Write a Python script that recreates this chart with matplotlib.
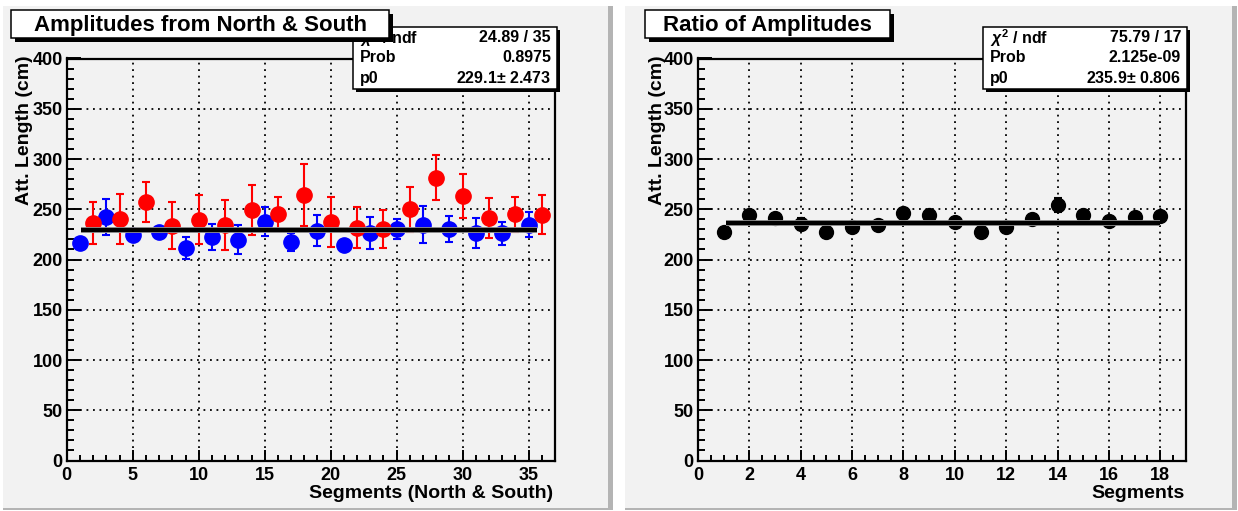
import matplotlib as mpl
import matplotlib.pyplot as plt
from matplotlib.patches import Rectangle
from matplotlib.ticker import MultipleLocator

mpl.use('Agg')
plt.rcParams['font.family'] = ['Liberation Sans', 'DejaVu Sans']
plt.rcParams['font.weight'] = 'bold'
plt.rcParams['mathtext.fontset'] = 'custom'
plt.rcParams['mathtext.it'] = 'Liberation Sans:italic:bold'
plt.rcParams['mathtext.rm'] = 'Liberation Sans:bold'

# left panel: north (odd segments, blue) and south (even segments, red)
north_seg = [1, 3, 5, 7, 9, 11, 13, 15, 17, 19, 21, 23, 25, 27, 29, 31, 33, 35]
north_len = [216.5, 242.2, 224.5, 227.2, 211.5, 222.2, 219.5, 237.8, 217.2,
             228.8, 214.8, 226.2, 230.5, 234.8, 230.5, 226.5, 226.2, 234.5]
north_err = [4, 18, 4, 4, 11, 13, 14.5, 14.5, 9,
             15, 5, 16, 10, 18.5, 12.6, 14.6, 11.5, 12.3]
south_seg = [2, 4, 6, 8, 10, 12, 14, 16, 18, 20, 22, 24, 26, 28, 30, 32, 34, 36]
south_len = [236.5, 240.5, 257.2, 233.8, 239.8, 234.5, 249.5, 245.5, 264.5,
             237.2, 231.5, 230.5, 249.8, 281.5, 262.8, 241.5, 244.8, 244.5]
south_err = [21, 25, 20, 23, 24, 25, 25, 17, 31,
             25, 20.5, 19, 22, 22.5, 22, 20, 17, 19.5]
fit_ns = 229.1
fit_ns_range = [1.1, 35.6]
stats_ns = [(r'$\chi^2$ / ndf', '24.89 / 35'), ('Prob', '0.8975'), ('p0', '229.1$\\pm$ 2.473')]

# right panel: ratio of amplitudes
ratio_seg = list(range(1, 19))
ratio_len = [227.2, 243.8, 241.5, 235.5, 227.2, 232.2, 234.5, 246.2, 243.8,
             237.2, 227.2, 232.2, 240.5, 253.8, 244.5, 238.2, 242.2, 242.8]
ratio_err = [3, 3, 3, 6, 3, 5, 3, 3, 3, 3, 3, 5, 3, 7, 3, 3, 3, 3]
fit_ratio = 235.9
fit_ratio_range = [1.1, 18.0]
stats_ratio = [(r'$\chi^2$ / ndf', '75.79 / 17'), ('Prob', '2.125e-09'), ('p0', '235.9$\\pm$ 0.806')]

W, H = 1238, 511
PAD = '#f2f2f2'
fig = plt.figure(figsize=(W / 100, H / 100), dpi=100)


def box(x0, y0, x1, y1, **kw):
    r = Rectangle((x0 / W, 1 - y1 / H), (x1 - x0) / W, (y1 - y0) / H,
                  transform=fig.transFigure, **kw)
    fig.add_artist(r)


def ftext(x, y, s, **kw):
    fig.text(x / W, 1 - y / H, s, **kw)


# pads with ROOT-like bevel
for x0, x1 in [(3, 613), (625, 1237)]:
    box(x0, 6, x1, 510, fc=PAD, ec='none', zorder=-10)
    box(x1 - 5, 6, x1, 510, fc='#b4b4b4', ec='none', zorder=-9)
    box(x0, 508, x1, 510, fc='#b4b4b4', ec='none', zorder=-9)


def style_axis(ax, xmax, xmajor, xminor):
    ax.set_facecolor(PAD)
    ax.set_xlim(0, xmax)
    ax.set_ylim(0, 400)
    ax.xaxis.set_major_locator(MultipleLocator(xmajor))
    ax.xaxis.set_minor_locator(MultipleLocator(xminor))
    ax.yaxis.set_major_locator(MultipleLocator(50))
    ax.yaxis.set_minor_locator(MultipleLocator(10))
    ax.tick_params(which='both', direction='in', top=False, right=False, width=1.4, labelsize=13)
    ax.tick_params(axis='y', which='major', length=10, pad=3)
    ax.tick_params(axis='y', which='minor', length=5)
    ax.tick_params(axis='x', which='major', length=8, pad=5)
    ax.tick_params(axis='x', which='minor', length=4.5)
    for sp in ax.spines.values():
        sp.set_linewidth(1.6)
    ax.grid(True, which='major', color='black', ls=(0, (1, 2.6)), lw=1.3)
    ax.set_axisbelow(True)


def fit_line(ax, rng, val):
    ax.plot(rng, [val, val], color='#b0b0b0', lw=4.2, solid_capstyle='butt', zorder=4)
    ax.plot(rng, [val, val], color='black', lw=3.2, solid_capstyle='butt', zorder=5)


def stats_box(x0, y0, x1, y1, rows):
    box(x0 + 3, y0 + 3, x1 + 3, y1 + 3, fc='black', ec='none', zorder=5)
    box(x0, y0, x1, y1, fc='white', ec='black', lw=1.1, zorder=6)
    for i, (k, v) in enumerate(rows):
        yy = y0 + 11 + i * 20
        ftext(x0 + 7, yy, k, fontsize=11.5, ha='left', va='center', zorder=7)
        ftext(x1 - 6, yy, v, fontsize=11.5, ha='right', va='center', zorder=7)


def title_box(x0, y0, x1, y1, s):
    box(x0 + 4, y0 + 4, x1 + 4, y1 + 4, fc='black', ec='none', zorder=8)
    box(x0, y0, x1, y1, fc='white', ec='black', lw=1.1, zorder=9)
    ftext((x0 + x1) / 2, (y0 + y1) / 2 + 1, s, fontsize=16, ha='center', va='center', zorder=10)


# left panel
axL = fig.add_axes([66.8 / W, 1 - 460.5 / H, (555 - 66.8) / W, 402 / H])
style_axis(axL, 37, 5, 1)
axL.errorbar(north_seg, north_len, yerr=north_err, fmt='o', color='blue', ms=11,
             elinewidth=1.5, capsize=3.2, capthick=1.5, zorder=3)
axL.errorbar(south_seg, south_len, yerr=south_err, fmt='o', color='red', ms=11,
             elinewidth=1.5, capsize=3.2, capthick=1.5, zorder=3)
fit_line(axL, fit_ns_range, fit_ns)

# right panel
axR = fig.add_axes([698 / W, 1 - 460.5 / H, (1186 - 698) / W, 402 / H])
style_axis(axR, 19, 2, 0.5)
axR.errorbar(ratio_seg, ratio_len, yerr=ratio_err, fmt='o', color='black', ms=10,
             elinewidth=1.5, capsize=3.2, capthick=1.5, zorder=3)
fit_line(axR, fit_ratio_range, fit_ratio)

# axis titles
ftext(25, 55, 'Att. Length (cm)', fontsize=14, rotation=90, ha='center', va='top')
ftext(658, 55, 'Att. Length (cm)', fontsize=14, rotation=90, ha='center', va='top')
ftext(553, 494, 'Segments (North & South)', fontsize=14, ha='right', va='center')
ftext(1185, 494, 'Segments', fontsize=14, ha='right', va='center')

stats_box(353, 27, 557, 89, stats_ns)
stats_box(983, 27, 1187, 89, stats_ratio)
title_box(11, 10, 389, 38, 'Amplitudes from North & South')
title_box(645, 10, 890, 38, 'Ratio of Amplitudes')

plt.savefig('out.png', dpi=100)
